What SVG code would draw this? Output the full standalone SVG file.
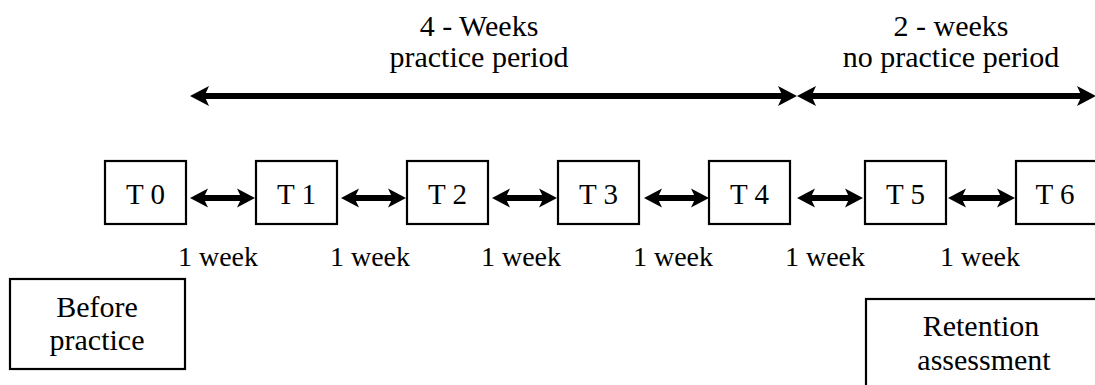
<svg xmlns="http://www.w3.org/2000/svg" width="1095" height="385" viewBox="0 0 1095 385">
  <style>
    text { font-family: "Liberation Serif", "Times New Roman", serif; fill: #000; text-anchor: middle; }
    .lbl { font-size: 30px; }
    .tl { font-size: 29px; }
    .wk { font-size: 28px; }
    .box { fill: #fff; stroke: #000; stroke-width: 2.2; }
    .conn { stroke: #000; fill: none; }
  </style>
  <defs>
    <marker id="ahs" markerUnits="userSpaceOnUse" markerWidth="22" markerHeight="22" refX="6" refY="11" orient="auto-start-reverse">
      <path d="M0,1.5 L18,11 L0,20.5 L4.5,11 Z" fill="#000"/>
    </marker>
    <marker id="ahb" markerUnits="userSpaceOnUse" markerWidth="22" markerHeight="24" refX="6" refY="12" orient="auto-start-reverse">
      <path d="M0,2 L19,12 L0,22 L4.5,12 Z" fill="#000"/>
    </marker>
  </defs>

  <g id="period-labels">
    <text class="lbl" x="479" y="36">4 - Weeks</text>
    <text class="lbl" x="479" y="67">practice period</text>
    <text class="lbl" x="951" y="36">2 - weeks</text>
    <text class="lbl" x="951" y="67">no practice period</text>
  </g>

  <g id="connectors">
    <line class="conn" stroke-width="6" x1="203" y1="96" x2="784" y2="96" marker-start="url(#ahb)" marker-end="url(#ahb)"/>
    <line class="conn" stroke-width="6" x1="810" y1="96" x2="1083" y2="96" marker-start="url(#ahb)" marker-end="url(#ahb)"/>
    <line class="conn" stroke-width="6" x1="202" y1="198" x2="243" y2="198" marker-start="url(#ahs)" marker-end="url(#ahs)"/>
    <line class="conn" stroke-width="6" x1="353" y1="198" x2="394" y2="198" marker-start="url(#ahs)" marker-end="url(#ahs)"/>
    <line class="conn" stroke-width="6" x1="504" y1="198" x2="545" y2="198" marker-start="url(#ahs)" marker-end="url(#ahs)"/>
    <line class="conn" stroke-width="6" x1="656" y1="198" x2="697" y2="198" marker-start="url(#ahs)" marker-end="url(#ahs)"/>
    <line class="conn" stroke-width="6" x1="809" y1="198" x2="851" y2="198" marker-start="url(#ahs)" marker-end="url(#ahs)"/>
    <line class="conn" stroke-width="6" x1="960" y1="198" x2="1003" y2="198" marker-start="url(#ahs)" marker-end="url(#ahs)"/>
  </g>

  <g id="T0"><rect class="box" x="105" y="161" width="81" height="63"/><text class="tl" x="145.5" y="204">T 0</text></g>
  <g id="T1"><rect class="box" x="256" y="161" width="81" height="63"/><text class="tl" x="296.5" y="204">T 1</text></g>
  <g id="T2"><rect class="box" x="407" y="161" width="81" height="63"/><text class="tl" x="447.5" y="204">T 2</text></g>
  <g id="T3"><rect class="box" x="558" y="161" width="81" height="63"/><text class="tl" x="598.5" y="204">T 3</text></g>
  <g id="T4"><rect class="box" x="709" y="161" width="81" height="63"/><text class="tl" x="749.5" y="204">T 4</text></g>
  <g id="T5"><rect class="box" x="865" y="161" width="81" height="63"/><text class="tl" x="905.5" y="204">T 5</text></g>
  <g id="T6"><rect class="box" x="1016" y="161" width="82" height="63"/><text class="tl" x="1055" y="204">T 6</text></g>

  <g id="interval-labels">
    <text class="wk" x="218" y="266">1 week</text>
    <text class="wk" x="370" y="266">1 week</text>
    <text class="wk" x="521" y="266">1 week</text>
    <text class="wk" x="673" y="266">1 week</text>
    <text class="wk" x="825" y="266">1 week</text>
    <text class="wk" x="980" y="266">1 week</text>
  </g>

  <g id="before-practice">
    <rect class="box" x="10" y="279" width="175" height="90"/>
    <text class="lbl" x="97" y="317">Before</text>
    <text class="lbl" x="97" y="350">practice</text>
  </g>

  <g id="retention-assessment">
    <rect class="box" x="866" y="299" width="240" height="100"/>
    <text class="lbl" x="981" y="336">Retention</text>
    <text class="lbl" x="984" y="370">assessment</text>
  </g>
</svg>
